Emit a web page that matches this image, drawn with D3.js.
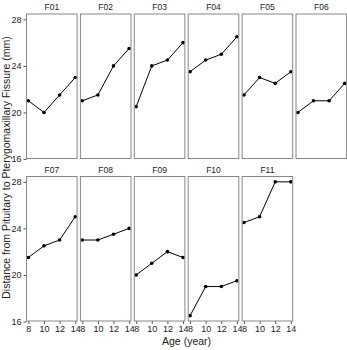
<!DOCTYPE html>
<html>
<head>
<meta charset="utf-8">
<script src="https://cdn.jsdelivr.net/npm/d3@7"></script>
<style>
body { margin: 0; background: #fff; }
text { font-family: "Liberation Sans", Arial, sans-serif; }
</style>
</head>
<body>
<div id="chart"></div>
<script>
// Orthodont, female subjects
let subjects = ["F01", "F02", "F03", "F04", "F05", "F06", "F07", "F08", "F09", "F10", "F11"];
let ages = [8, 10, 12, 14];
let distances = [
	[21, 20, 21.5, 23],
	[21, 21.5, 24, 25.5],
	[20.5, 24, 24.5, 26],
	[23.5, 24.5, 25, 26.5],
	[21.5, 23, 22.5, 23.5],
	[20, 21, 21, 22.5],
	[21.5, 22.5, 23, 25],
	[23, 23, 23.5, 24],
	[20, 21, 22, 21.5],
	[16.5, 19, 19, 19.5],
	[24.5, 25, 28, 28]
];
let yTicks = [16, 20, 24, 28];
let xTicks = [8, 10, 12, 14];

let svgWidth = 347;
let svgHeight = 350;
let left = 26.5;
let panelW = 50.6;
let gap = 3.3;
let panelH = 144.5;
let rowTop = [14, 176.5];
let nCols = 6;

let svg = d3.select("#chart")
	.append("svg")
	.attr("width", svgWidth)
	.attr("height", svgHeight);

let xScale = d3.scaleLinear()
	.domain([7.76, 14.24])
	.range([0, panelW]);

let yScale = d3.scaleLinear()
	.domain([16.04, 28.46])
	.range([panelH, 0]);

subjects.forEach(function(s, i) {
	let col = i % nCols;
	let row = Math.floor(i / nCols);
	let px = left + col * (panelW + gap);
	let py = rowTop[row];
	let g = svg.append("g").attr("transform", `translate(${px}, ${py})`);

	g.append("text")
		.attr("x", panelW / 2)
		.attr("y", -4)
		.attr("text-anchor", "middle")
		.attr("font-size", "8.5px")
		.attr("fill", "#222")
		.text(s);

	let pts = ages.map((a, j) => [a, distances[i][j]]);

	g.append("path")
		.datum(pts)
		.attr("fill", "none")
		.attr("stroke", "#000")
		.attr("stroke-width", 1)
		.attr("d", d3.line().x(d => xScale(d[0])).y(d => yScale(d[1])));

	g.selectAll("circle").data(pts).enter()
		.append("circle")
		.attr("cx", d => xScale(d[0]))
		.attr("cy", d => yScale(d[1]))
		.attr("r", 1.8)
		.attr("fill", "#000");

	if (col === 0) {
		let ax = g.append("g")
			.call(d3.axisLeft(yScale).tickValues(yTicks).tickFormat(d3.format("d")).tickSize(3).tickPadding(2));
		ax.select(".domain").remove();
		ax.selectAll("line").attr("stroke", "#555");
		ax.selectAll("text").attr("font-size", "9px").attr("fill", "#222")
			.style("font-family", "Liberation Sans, Arial, sans-serif");
	}
	if (row === 1) {
		let ax = g.append("g")
			.attr("transform", `translate(0, ${panelH})`)
			.call(d3.axisBottom(xScale).tickValues(xTicks).tickFormat(d3.format("d")).tickSize(3).tickPadding(2));
		ax.select(".domain").remove();
		ax.selectAll("line").attr("stroke", "#555");
		ax.selectAll("text").attr("font-size", "9px").attr("fill", "#222")
			.style("font-family", "Liberation Sans, Arial, sans-serif");
	}

	g.append("rect")
		.attr("width", panelW)
		.attr("height", panelH)
		.attr("fill", "none")
		.attr("stroke", "#888")
		.attr("stroke-width", 1);
});

svg.append("text")
	.attr("transform", `translate(10, ${(rowTop[0] + rowTop[1] + panelH) / 2}) rotate(-90)`)
	.attr("text-anchor", "middle")
	.attr("font-size", "10.5px")
	.attr("fill", "#222")
	.text("Distance from Pituitary to Pterygomaxillary Fissure (mm)");

svg.append("text")
	.attr("x", left + (nCols * panelW + (nCols - 1) * gap) / 2)
	.attr("y", 345)
	.attr("text-anchor", "middle")
	.attr("font-size", "10.5px")
	.attr("fill", "#222")
	.text("Age (year)");
</script>
</body>
</html>
